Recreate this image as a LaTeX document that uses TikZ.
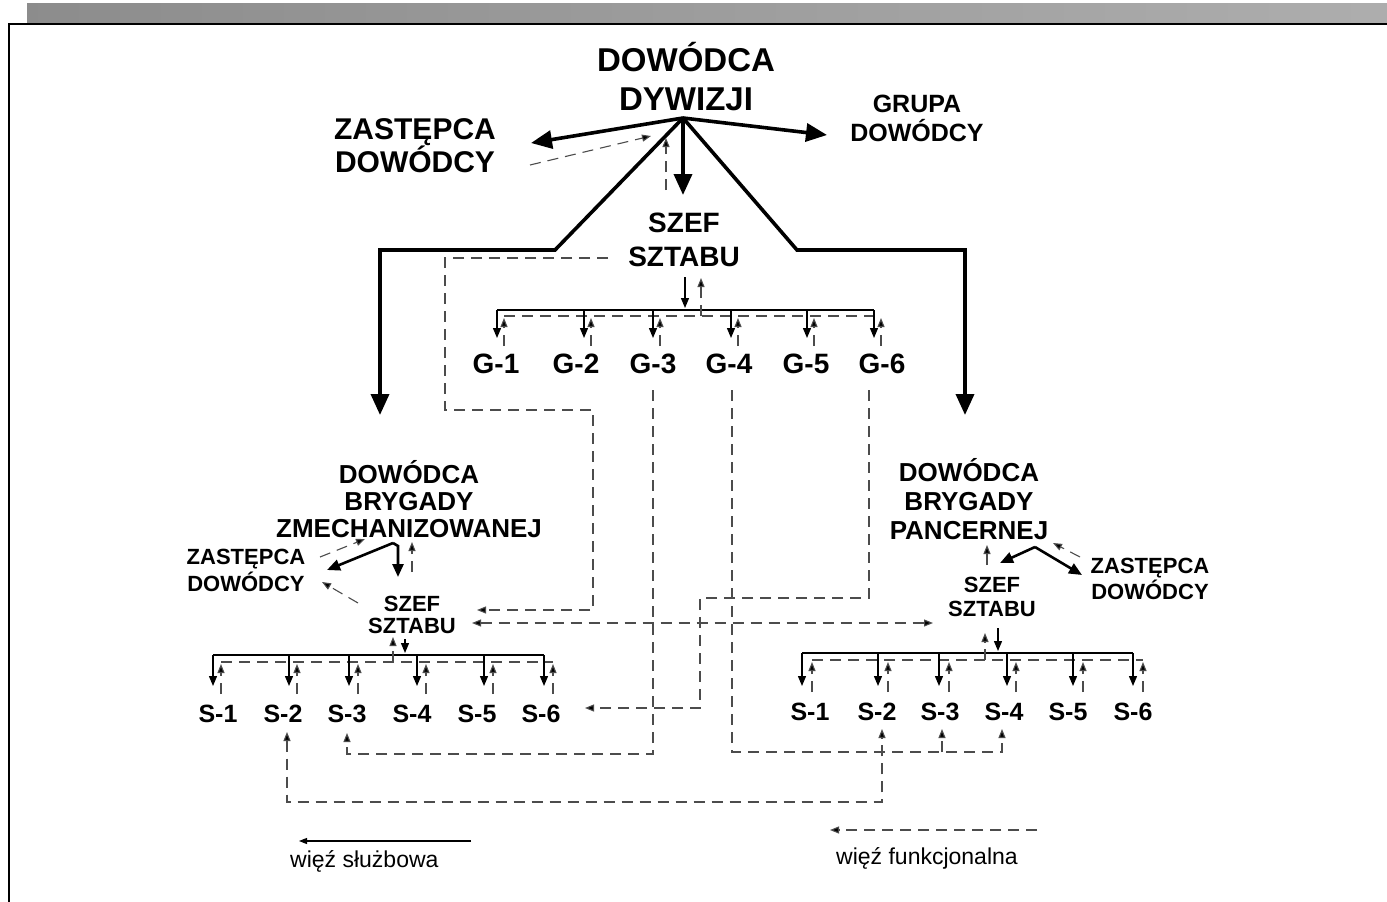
\documentclass[tikz,border=0pt]{standalone}
\usepackage{fontspec}
\setmainfont{Liberation Sans}
\usetikzlibrary{arrows.meta,positioning}

\newcommand{\setfs}[2]{\fontsize{#1}{#2}\selectfont}

\begin{document}
\begin{tikzpicture}[x=1pt,y=-1pt,
        lbl/.style={inner sep=0pt, align=center, anchor=south},
        cell/.style={inner sep=0pt, anchor=base, font=\bfseries\setfs{28}{32}},
        mainlink/.style={line width=3.6pt, ->, >={Triangle[length=21pt,width=18pt]}},
        brglink/.style={line width=2.6pt, ->, >={Triangle[length=13pt,width=11pt]}},
        duty/.style={line width=1.3pt, ->, >={Triangle[length=10pt,width=8pt]}},
        func/.style={line width=1.1pt, black!70, dash pattern=on 11pt off 7pt, ->, >={Triangle[length=9pt,width=7pt, fill=black]}},
        ]
        \useasboundingbox (0,0) rectangle (1387,902);

        % page strip and frame
        \shade[left color=black!45, right color=black!32] (27,3) rectangle (1387,22);
        \draw[line width=1.5pt] (9,902) -- (9,24) -- (1387,24);

        % division level
        \node[lbl, font=\bfseries\setfs{33}{39}] (div) at (686,111) {DOWÓDCA\\DYWIZJI};
        \node[lbl, font=\bfseries\setfs{30}{33}] (zastDiv) at (415,173) {ZASTĘPCA\\DOWÓDCY};
        \node[lbl, font=\bfseries\setfs{25}{29}] (grupa) at (917,142) {GRUPA\\DOWÓDCY};
        \node[lbl, font=\bfseries\setfs{28}{34}] (szefDiv) at (684,267) {SZEF\\SZTABU};

        \foreach \x [count=\i] in {496,576,653,729,806,882}
            \node[cell] (g\i) at (\x,373) {G-\i};

        % brigades
        \node[lbl, font=\bfseries\setfs{26}{27}] (brygZ) at (409,538) {DOWÓDCA\\BRYGADY\\ZMECHANIZOWANEJ};
        \node[lbl, font=\bfseries\setfs{22}{27}] (zastZ) at (246,592) {ZASTĘPCA\\DOWÓDCY};
        \node[lbl, font=\bfseries\setfs{22}{22}] (szefZ) at (412,634) {SZEF\\SZTABU};

        \node[lbl, font=\bfseries\setfs{26}{29}] (brygP) at (969,540) {DOWÓDCA\\BRYGADY\\PANCERNEJ};
        \node[lbl, font=\bfseries\setfs{22}{26}] (zastP) at (1150,600) {ZASTĘPCA\\DOWÓDCY};
        \node[lbl, font=\bfseries\setfs{22}{24}] (szefP) at (992,617) {SZEF\\SZTABU};

        \foreach \x [count=\i] in {218,283,347,412,477,541}
            \node[cell, font=\bfseries\setfs{25}{30}] (sz\i) at (\x,722) {S-\i};
        \foreach \x [count=\i] in {810,877,940,1004,1068,1133}
            \node[cell, font=\bfseries\setfs{25}{30}] (sp\i) at (\x,720) {S-\i};

        % command lines from the division commander
        \coordinate (apex) at (683,118);
        \draw[mainlink] (apex) -- (531,143);
        \draw[mainlink] (apex) -- (683,195);
        \draw[mainlink] (apex) -- (827,135);
        \draw[mainlink] (apex) -- (555,250) -- (380,250) -- (380,415);
        \draw[mainlink] (apex) -- (797,250) -- (965,250) -- (965,415);
        \draw[func] (530,165) -- (651,136);
        \draw[func] (666,190) -- (666,138);

        % division staff and G cells
        \draw[line width=1.3pt] (497,310) -- (874,310);
        \draw[func, -] (504,316) -- (881,316);
        \draw[duty] (685,277) -- (685,308);
        \draw[func] (701,316) -- (701,278);
        \foreach \xs/\xd in {497/504,584/591,653/660,731/738,807/814,874/881} {
            \draw[duty] (\xs,310) -- (\xs,338);
            \draw[func] (\xd,346) -- (\xd,318);
        }

        % mechanised brigade
        \coordinate (apexZ) at (393,543);
        \draw[brglink] (apexZ) -- (327,570);
        \draw[brglink] (apexZ) -- (398,546) -- (398,577);
        \draw[func] (320,557) -- (365,539);
        \draw[func] (412,572) -- (412,542);
        \draw[func] (358,603) -- (322,582);

        \draw[line width=1.3pt] (213,655) -- (544,655);
        \draw[func, -] (221,662) -- (553,662);
        \draw[duty] (405,639) -- (405,653);
        \draw[func] (393,662) -- (393,637);
        \foreach \xs/\xd in {213/221,289/297,349/358,417/426,484/493,544/553} {
            \draw[duty] (\xs,655) -- (\xs,686);
            \draw[func] (\xd,694) -- (\xd,664);
        }

        % armoured brigade
        \coordinate (apexP) at (1035,547);
        \draw[brglink] (apexP) -- (1000,563);
        \draw[brglink] (apexP) -- (1082,575);
        \draw[func] (1080,557) -- (1053,543);
        \draw[func] (987,565) -- (987,545);

        \draw[line width=1.3pt] (802,653) -- (1133,653);
        \draw[func, -] (812,660) -- (1143,660);
        \draw[duty] (998,628) -- (998,651);
        \draw[func] (985,660) -- (985,633);
        \foreach \xs/\xd in {802/812,878/888,939/949,1007/1016,1073/1083,1133/1143} {
            \draw[duty] (\xs,653) -- (\xs,686);
            \draw[func] (\xd,692) -- (\xd,662);
        }

        % functional links between staffs
        \draw[func] (608,258) -- (445,258) -- (445,410) -- (593,410) -- (593,610) -- (477,610);
        \draw[func, <->] (472,623) -- (933,623);
        \draw[func] (653,390) -- (653,754) -- (347,754) -- (347,733);
        \draw[func] (732,390) -- (732,752) -- (1002,752) -- (1002,729);
        \draw[func] (942,752) -- (942,729);
        \draw[func] (869,390) -- (869,598) -- (700,598) -- (700,708) -- (585,708);
        \draw[func, <->] (287,732) -- (287,802) -- (882,802) -- (882,729);

        % legend
        \draw[line width=1.1pt, ->, >={Triangle[length=8pt,width=6pt]}] (471,841) -- (299,841);
        \node[inner sep=0pt, anchor=base west, font=\setfs{23}{28}] (legDuty) at (290,867) {więź służbowa};
        \draw[func] (1037,830) -- (830,830);
        \node[inner sep=0pt, anchor=base west, font=\setfs{23}{28}] (legFunc) at (836,864) {więź funkcjonalna};

    \end{tikzpicture}
\end{document}
